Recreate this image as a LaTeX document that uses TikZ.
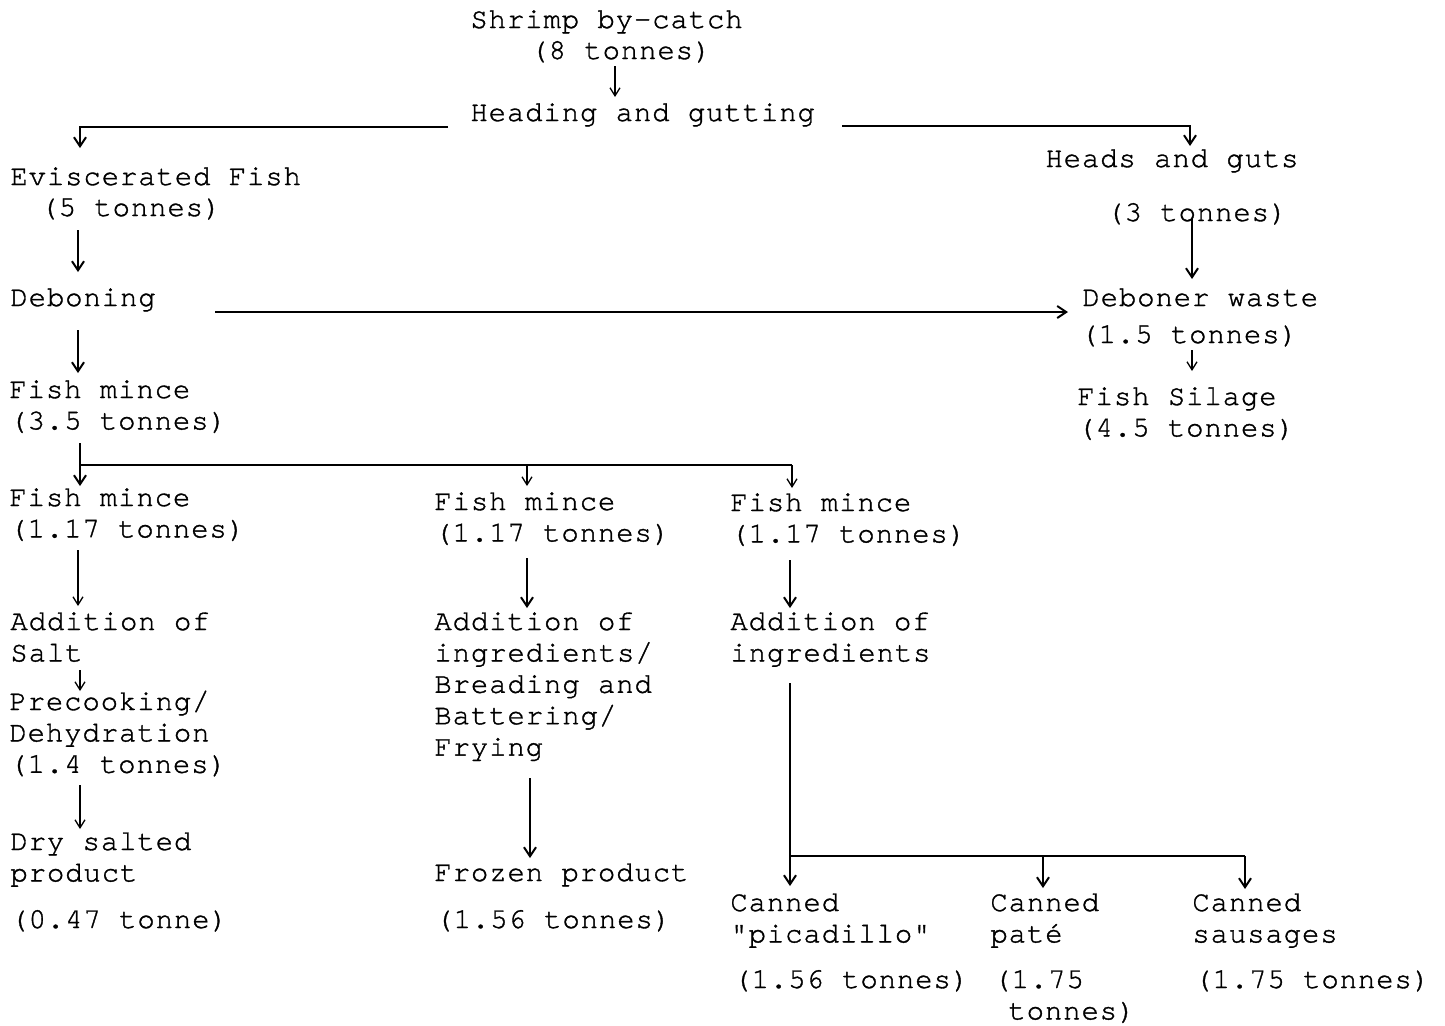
\documentclass[tikz,border=0pt]{standalone}
\usepackage{fontspec}
\usetikzlibrary{arrows.meta}
\newfontfamily\twfont{texgyrecursor-regular}[Extension=.otf, LetterSpace=3, FakeBold=1.2]
\newcommand\ml[1]{\vtop{\lineskiplimit=-20pt\halign{##\hfil\cr#1\crcr}}}
\begin{document}
\begin{tikzpicture}[x=0.5pt,y=-0.5pt,
  tw/.style={anchor=base west, inner sep=0pt, font=\twfont\fontsize{14.5}{15.7}\selectfont},
  arr/.style={-{Straight Barb[length=4.5pt,width=6pt]}, line width=1pt},
  arrthin/.style={-{Straight Barb[length=4pt,width=5pt]}, line width=0.65pt},
  conn/.style={line width=1.1pt}]
\fill[white] (0,0) rectangle (1445,1025);
\useasboundingbox (0,0) rectangle (1445,1025);

% texts
\node[tw] (shrimp) at (470,28) {Shrimp by-catch};
\node[tw] (shrimpq) at (530,59) {(8 tonnes)};
\node[tw] (head) at (470,121) {Heading and gutting};
\node[tw] (evisc) at (10,185) {Eviscerated Fish};
\node[tw] (eviscq) at (40,216) {(5 tonnes)};
\node[tw] (heads) at (1045,167) {Heads and guts};
\node[tw] (headsq) at (1106,221) {(3 tonnes)};
\node[tw] (debon) at (10,306) {Deboning};
\node[tw] (waste) at (1082,306) {Deboner waste};
\node[tw] (wasteq) at (1080,343) {(1.5 tonnes)};
\node[tw] (silage) at (1077,405) {\ml{Fish Silage\cr(4.5 tonnes)}};
\node[tw] (mince) at (9,398) {\ml{Fish mince\cr(3.5 tonnes)}};
\node[tw] (minceA) at (9,506) {\ml{Fish mince\cr(1.17 tonnes)}};
\node[tw] (minceB) at (434,510) {\ml{Fish mince\cr(1.17 tonnes)}};
\node[tw] (minceC) at (730,511) {\ml{Fish mince\cr(1.17 tonnes)}};
\node[tw] (salt) at (10,630) {\ml{Addition of\cr Salt}};
\node[tw] (precook) at (9,710) {\ml{Precooking/\cr Dehydration\cr(1.4 tonnes)}};
\node[tw] (dry) at (10,850) {\ml{Dry salted\cr product}};
\node[tw] (dryq) at (10,928) {(0.47 tonne)};
\node[tw] (bread) at (434,630) {\ml{Addition of\cr ingredients/\cr Breading and\cr Battering/\cr Frying}};
\node[tw] (frozen) at (434,881) {Frozen product};
\node[tw] (frozenq) at (435,928) {(1.56 tonnes)};
\node[tw] (ingr) at (730,630) {\ml{Addition of\cr ingredients}};
\node[tw] (pica) at (730,911) {\ml{Canned\cr\symbol{34}picadillo\symbol{34}}};
\node[tw] (pate) at (990,911) {\ml{Canned\cr pat\'e}};
\node[tw] (sausa) at (1192,911) {\ml{Canned\cr sausages}};
\node[tw] (picaq) at (733,988) {(1.56 tonnes)};
\node[tw] (pateq) at (993,988) {\ml{(1.75\cr\hspace{7.5pt}tonnes)}};
\node[tw] (sausaq) at (1194,988) {(1.75 tonnes)};

% coordinates
\coordinate (a1) at (615,66);   \coordinate (a2) at (615,97);
\coordinate (hl1) at (448,127); \coordinate (hl2) at (80,127);  \coordinate (hl3) at (80,148);
\coordinate (hr1) at (842,126); \coordinate (hr2) at (1190,126); \coordinate (hr3) at (1190,146);
\coordinate (e1) at (78,230);   \coordinate (e2) at (78,272);
\coordinate (g1) at (1192,218); \coordinate (g2) at (1192,279);
\coordinate (w1) at (1192,350); \coordinate (w2) at (1192,371);
\coordinate (d1) at (215,312);  \coordinate (d2) at (1068,312);
\coordinate (b1) at (78,330);   \coordinate (b2) at (78,373);
\coordinate (m1) at (80,443);   \coordinate (m2) at (80,486);
\coordinate (mj) at (80,465);   \coordinate (mr) at (792,465);
\coordinate (mb1) at (527,465); \coordinate (mb2) at (527,486);
\coordinate (mc2) at (792,488);
\coordinate (la1) at (78,550);  \coordinate (la2) at (78,606);
\coordinate (lb1) at (527,558); \coordinate (lb2) at (527,608);
\coordinate (lc1) at (790,560); \coordinate (lc2) at (790,608);
\coordinate (s1) at (80,670);   \coordinate (s2) at (80,691);
\coordinate (p1) at (80,785);   \coordinate (p2) at (80,829);
\coordinate (f1) at (530,778);  \coordinate (f2) at (530,858);
\coordinate (i1) at (790,683);  \coordinate (i2) at (790,886);
\coordinate (ij) at (790,856);  \coordinate (ir) at (1245,856);
\coordinate (pt1) at (1043,856); \coordinate (pt2) at (1043,888);
\coordinate (ss2) at (1245,889);

% connectors
\draw[arrthin] (a1) -- (a2);
\draw[arr] (hl1) -- (hl2) -- (hl3);
\draw[arr] (hr1) -- (hr2) -- (hr3);
\draw[arr] (e1) -- (e2);
\draw[arr] (g1) -- (g2);
\draw[arrthin] (w1) -- (w2);
\draw[arr] (d1) -- (d2);
\draw[arr] (b1) -- (b2);
\draw[arr] (m1) -- (m2);
\draw[conn] (mj) -- (mr);
\draw[arrthin] (mb1) -- (mb2);
\draw[arrthin] (mr) -- (mc2);
\draw[arrthin] (la1) -- (la2);
\draw[arr] (lb1) -- (lb2);
\draw[arr] (lc1) -- (lc2);
\draw[arrthin] (s1) -- (s2);
\draw[arrthin] (p1) -- (p2);
\draw[arr] (f1) -- (f2);
\draw[arr] (i1) -- (i2);
\draw[conn] (ij) -- (ir);
\draw[arr] (pt1) -- (pt2);
\draw[arr] (ir) -- (ss2);
\end{tikzpicture}
\end{document}
